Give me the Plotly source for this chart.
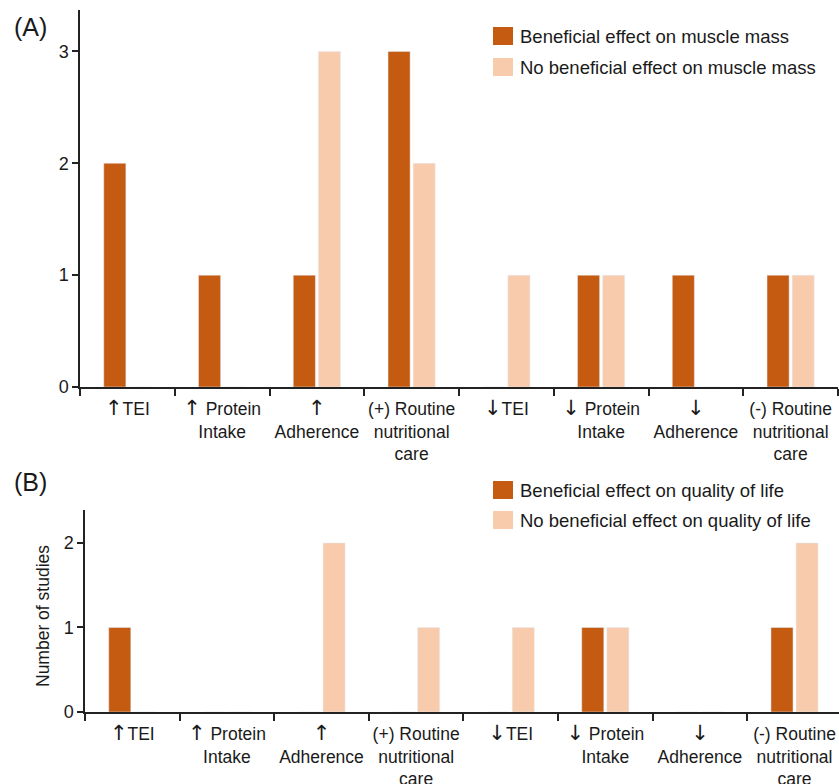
import plotly.graph_objects as go

UP = '<span style="font-family:DejaVu Sans;font-size:21px">↑</span>'
DOWN = '<span style="font-family:DejaVu Sans;font-size:21px">↓</span>'

categories = [UP + "TEI", UP + " Protein<br>Intake", UP + "<br>Adherence", "(+) Routine<br>nutritional<br>care",
              DOWN + "TEI", DOWN + " Protein<br>Intake", DOWN + "<br>Adherence", "(-) Routine<br>nutritional<br>care"]
muscle_benefit = [2, 1, 1, 3, 0, 1, 1, 1]
muscle_no_benefit = [0, 0, 3, 2, 1, 1, 0, 1]
qol_benefit = [1, 0, 0, 0, 0, 1, 0, 1]
qol_no_benefit = [0, 0, 2, 1, 1, 1, 0, 2]

legend_a = ["Beneficial effect on muscle mass", "No beneficial effect on muscle mass"]
legend_b = ["Beneficial effect on quality of life", "No beneficial effect on quality of life"]

DARK = "#C55A11"
LIGHT = "#F8CBAD"
W, H = 839, 784
FONT = "Liberation Sans, Arial, DejaVu Sans, sans-serif"

fig = go.Figure()
fig.add_trace(go.Bar(x=categories, y=muscle_benefit, marker_color=DARK, name=legend_a[0],
                     xaxis="x", yaxis="y", showlegend=False))
fig.add_trace(go.Bar(x=categories, y=muscle_no_benefit, marker_color=LIGHT, name=legend_a[1],
                     xaxis="x", yaxis="y", showlegend=False))
fig.add_trace(go.Bar(x=categories, y=qol_benefit, marker_color=DARK, name=legend_b[0],
                     xaxis="x2", yaxis="y2", showlegend=False))
fig.add_trace(go.Bar(x=categories, y=qol_no_benefit, marker_color=LIGHT, name=legend_b[1],
                     xaxis="x2", yaxis="y2", showlegend=False))

def px_x(p):
    return p / W

def px_y(p):
    return 1 - p / H

xcommon = dict(type="category", tickson="boundaries", ticks="outside", ticklen=7, tickwidth=1.5,
               tickcolor="#222", showline=True, linecolor="#222", linewidth=1.5, showgrid=False,
               ticklabelstandoff=5, tickangle=0,
               tickfont=dict(size=17.5, color="#1a1a1a", family=FONT), automargin=False, fixedrange=True)
ycommon = dict(ticks="outside", ticklen=6, tickwidth=1.5, tickcolor="#222", showline=True,
               linecolor="#222", linewidth=1.5, showgrid=False, zeroline=False, dtick=1,
               tickfont=dict(size=18, color="#1a1a1a", family=FONT), automargin=False)

fig.update_layout(
    width=W, height=H,
    margin=dict(l=0, r=0, t=0, b=0),
    paper_bgcolor="white", plot_bgcolor="white",
    barmode="group", bargap=0.47, bargroupgap=0.12,
    font=dict(family=FONT, size=18, color="#1a1a1a"),
    xaxis=dict(domain=[px_x(80), px_x(838)], anchor="y", range=[-0.5, 7.5], **xcommon),
    yaxis=dict(domain=[px_y(387), px_y(10)], anchor="x", range=[0, 3.37], **ycommon),
    xaxis2=dict(domain=[px_x(85), 1.0], anchor="y2", range=[-0.5, 7.47], **xcommon),
    yaxis2=dict(domain=[px_y(712), px_y(510)], anchor="x2", range=[0, 2.39], **ycommon),
)

shapes = []
annotations = []

def add_legend(labels, y_centers):
    for label, yc, col in zip(labels, y_centers, [DARK, LIGHT]):
        shapes.append(dict(type="rect", xref="paper", yref="paper",
                           x0=px_x(493), x1=px_x(513), y0=px_y(yc + 9), y1=px_y(yc - 9),
                           fillcolor=col, line=dict(width=0)))
        annotations.append(dict(text=label, xref="paper", yref="paper", x=px_x(518), y=px_y(yc),
                                xanchor="left", yanchor="middle", showarrow=False,
                                font=dict(size=18.5, color="#1a1a1a", family=FONT)))

add_legend(legend_a, [36, 67])
add_legend(legend_b, [490, 520])

annotations.append(dict(text="(A)", xref="paper", yref="paper", x=px_x(12), y=px_y(27),
                        xanchor="left", yanchor="middle", showarrow=False,
                        font=dict(size=25, color="#1a1a1a", family=FONT)))
annotations.append(dict(text="(B)", xref="paper", yref="paper", x=px_x(12), y=px_y(482),
                        xanchor="left", yanchor="middle", showarrow=False,
                        font=dict(size=25, color="#1a1a1a", family=FONT)))
annotations.append(dict(text="Number of studies", xref="paper", yref="paper", x=px_x(43), y=px_y(616),
                        xanchor="center", yanchor="middle", textangle=-90, showarrow=False,
                        font=dict(size=17.5, color="#1a1a1a", family=FONT)))

fig.update_layout(shapes=shapes, annotations=annotations)
fig.write_html("out.html")
